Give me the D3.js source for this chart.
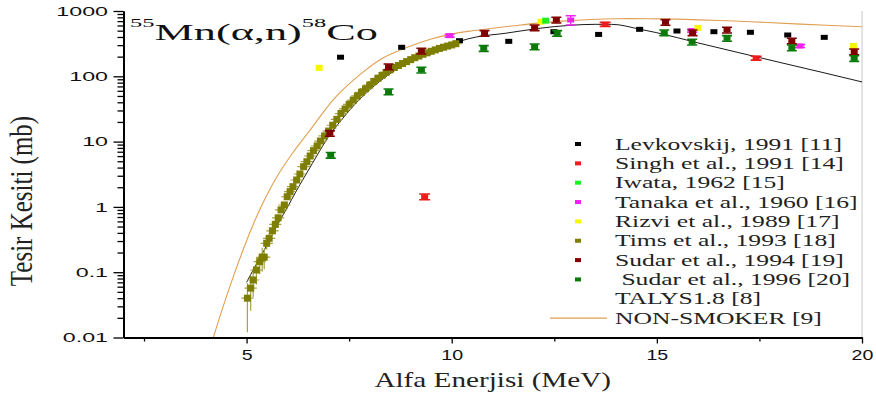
<!DOCTYPE html>
<html><head><meta charset="utf-8">
<script src="https://cdn.jsdelivr.net/npm/d3@7"></script>
<style>
body{margin:0;background:#fff}
svg{display:block}
text{white-space:pre}
</style>
</head><body>
<svg id="c" width="876" height="401"></svg>
<script>
// ---------- data ----------
const xDomain = [2, 20];
const yDomain = [0.01, 1000];
const xMajorTicks = [5, 10, 15, 20];
const xMajorLabels = ["5", "10", "15", "20"];
const xMinorTicks = [2.5, 7.5, 12.5, 17.5];
const yMajorTicks = [0.01, 0.1, 1, 10, 100, 1000];
const yMajorLabels = ["0.01", "0.1", "1", "10", "100", "1000"];

const levkE = [7.29, 8.78, 10.19, 11.39, 12.49, 13.58, 14.58, 15.49, 16.39, 17.28, 18.19, 19.08];
const levkS = [196, 278, 351, 343, 482, 438, 524, 494, 482, 472, 429, 395];
const levkErr = [0, 0, 0, 0, 0, 0, 0, 0, 0, 0, 0, 0];

const singhE = [9.34, 13.74, 17.42];
const singhS = [1.43, 625, 190];
const singhErr = [0.1, 0.07, 0.07];

const iwataE = [12.29];
const iwataS = [711];
const iwataErr = [0];

const tanakaE = [9.95, 12.90, 15.86, 18.49];
const tanakaS = [419, 728, 500, 291];
const tanakaErr = [0.05, 0.16, 0.05, 0.05];

const rizviE = [6.77, 12.18, 16.00, 19.79];
const rizviS = [135, 685, 550, 291];
const rizviErr = [0, 0, 0, 0];

const timsE = [5.02,5.10,5.16,5.24,5.32,5.38,5.43,5.49,5.55,5.63,5.70,5.77,5.84,5.92,5.99,6.06,6.13,6.22,6.30,6.39,6.47,6.55,6.63,6.72,6.80,6.90,
  7.0,7.1,7.2,7.3,7.4,7.5,7.6,7.7,7.8,7.9,8.0,8.1,8.2,8.3,8.4,8.5,8.6,8.7,8.8,8.9,9.0,9.1,9.2,9.3,9.4,9.5,9.6,9.7,9.8,9.9,10.0,10.1];
const timsS = [0.040,0.057,0.076,0.108,0.145,0.169,0.17,0.277,0.33,0.43,0.54,0.68,0.90,1.07,1.43,1.71,2.04,2.58,3.19,4.13,4.92,6.02,7.26,8.57,10.2,12.2,
  14.5,17.8,21.9,26.9,31.6,37.2,43.2,50.1,56.9,64.6,73.3,83.2,93.3,103.5,114.8,125.9,136.5,146.2,156.7,167.9,179.9,192.8,204.2,217.3,229,241.5,254,267.3,278.6,290.4,302,316];
const timsErr = [0.7,0.55,0.45,0.4,0.35,0.4,0.35,0.2,0.2,0.15,0.12,0.12,0.1,0.1,0.1,0.1,0.08,0.08,0.08,0.08,0.08,0.08,0.08,0.08,0.08,0.08,
  0.08,0.08,0.08,0.08,0.08,0.08,0.08,0.08,0.08,0.08,0.08,0.08,0.08,0.08,0.08,0.08,0.08,0.08,0.08,0.08,0.08,0.08,0.08,0.08,0.08,0.08,0.08,0.08,0.08,0.08,0.08,0.08];
const timsDE = 0.15;

const sudar94E = [7.03, 8.46, 9.26, 10.80, 12.02, 12.55, 15.21, 15.87, 16.71, 18.29, 19.81];
const sudar94S = [13.4, 140, 244, 455, 556, 728, 671, 466, 512, 348, 238];
const sudar94Err = [0.1, 0.1, 0.1, 0.1, 0.1, 0.1, 0.1, 0.1, 0.1, 0.1, 0.1];

const sudar96E = [7.05, 8.46, 9.26, 10.78, 12.02, 12.57, 15.18, 15.86, 16.71, 18.29, 19.81];
const sudar96S = [6.2, 58, 125, 268, 284, 455, 466, 335, 382, 274, 188];
const sudar96Err = [0.1, 0.1, 0.1, 0.1, 0.1, 0.1, 0.1, 0.1, 0.1, 0.1, 0.1];

const talysE = [5.0,5.2,5.4,5.6,5.8,6.0,6.2,6.4,6.6,6.8,7.0,7.3,7.6,8.0,8.5,9.0,9.5,10.0,10.2,10.6,11.3,12.1,12.9,13.5,13.9,14.6,15.0,16,17,18,19,20];
const talysS = [0.07,0.12,0.2,0.35,0.6,1.0,1.7,2.8,4.6,7.5,12,21,35,62,110,170,240,310,345,400,455,540,605,625,625,524,465,325,230,163,116,82];

const nsE = [4.19,4.4,4.67,4.9,5.12,5.3,5.49,5.7,5.9,6.1,6.3,6.5,6.8,7.1,7.4,7.8,8.3,8.9,9.5,10.0,10.5,10.9,11.5,12.1,12.7,13.4,14.0,14.8,15.5,16.5,17.3,18.5,20];
const nsS = [0.01,0.0263,0.0832,0.207,0.466,0.85,1.50,2.62,4.19,6.40,9.47,13.7,24.6,42.8,67,111,187,275,372,443,497,535,593,653,700,741,762,762,750,715,685,630,575];

const legendLabels = ["Levkovskij, 1991 [11]", "Singh et al., 1991 [14]", "Iwata, 1962 [15]",
  "Tanaka et al., 1960 [16]", "Rizvi et al., 1989 [17]", "Tims et al., 1993 [18]",
  "Sudar et al., 1994 [19]", " Sudar et al., 1996 [20]", "TALYS1.8 [8]", "NON-SMOKER [9]"];
const titleParts = ["55", "Mn(\u03b1,n)", "58", "Co"];
const xTitle = "Alfa Enerjisi (MeV)";
const yTitle = "Tesir Kesiti (mb)";

// ---------- layout ----------
const X0 = 123.5, X1 = 862, Y0 = 337.5, Y1 = 11;
const colors = {levk:"#000000", singh:"#ee1c1c", iwata:"#22ee22", tanaka:"#ee22ee", rizvi:"#f6f600",
  tims:"#7e7e00", timsErr:"#a3a348", sudar94:"#800000", sudar96:"#0b7a0b", talys:"#000000", ns:"#e0a050"};

const svg = d3.select("#c");
const x = d3.scaleLinear().domain(xDomain).range([X0, X1]);
const y = d3.scaleLog().domain(yDomain).range([Y0, Y1]);

svg.append("defs").append("clipPath").attr("id","clip")
  .append("rect").attr("x",X0).attr("y",Y1-4).attr("width",X1-X0).attr("height",Y0-Y1+4);

// right spine (light)
svg.append("line").attr("x1",X1).attr("x2",X1).attr("y1",Y1).attr("y2",Y0)
  .attr("stroke","#c8c8c8").attr("stroke-width",1);

const plot = svg.append("g").attr("clip-path","url(#clip)");

// model curves
const line = d3.line().x(d=>x(d[0])).y(d=>y(d[1])).curve(d3.curveMonotoneX);
plot.append("path").datum(d3.zip(nsE, nsS)).attr("d", line.curve(d3.curveCatmullRom.alpha(0.5)))
  .attr("fill","none").attr("stroke",colors.ns).attr("stroke-width",1.1);
plot.append("path").datum(d3.zip(talysE, talysS)).attr("d", line.curve(d3.curveMonotoneX))
  .attr("fill","none").attr("stroke",colors.talys).attr("stroke-width",0.9);

// generic series with error bars
function drawSeries(E, S, Err, color, w, h, capW) {
  const g = plot.append("g");
  const data = d3.zip(E, S, Err);
  data.forEach(d => {
    const cx = x(d[0]), cy = y(d[1]);
    if (d[2] > 0) {
      const yt = y(d[1]*(1+d[2])), yb = y(d[1]*(1-d[2]));
      g.append("line").attr("x1",cx).attr("x2",cx).attr("y1",yt).attr("y2",yb).attr("stroke",color).attr("stroke-width",1.2);
      g.append("line").attr("x1",cx-capW/2).attr("x2",cx+capW/2).attr("y1",yt).attr("y2",yt).attr("stroke",color).attr("stroke-width",1.6);
      g.append("line").attr("x1",cx-capW/2).attr("x2",cx+capW/2).attr("y1",yb).attr("y2",yb).attr("stroke",color).attr("stroke-width",1.6);
    }
    g.append("rect").attr("x",cx-w/2).attr("y",cy-h/2).attr("width",w).attr("height",h).attr("fill",color);
  });
}

drawSeries(levkE, levkS, levkErr, colors.levk, 7, 5, 10);
drawSeries(singhE, singhS, singhErr, colors.singh, 7, 5, 11);
drawSeries(tanakaE, tanakaS, tanakaErr, colors.tanaka, 7, 5, 10);

// Tims: squares with light error bars
const tg = plot.append("g");
d3.zip(timsE, timsS, timsErr).forEach(d => {
  const cx = x(d[0]), cy = y(d[1]);
  tg.append("line").attr("x1",cx).attr("x2",cx).attr("y1",y(d[1]*(1+d[2]))).attr("y2",y(d[1]*(1-d[2])))
    .attr("stroke",colors.timsErr).attr("stroke-width",1.2);
  tg.append("line").attr("x1",x(d[0]-timsDE)).attr("x2",x(d[0]+timsDE)).attr("y1",cy).attr("y2",cy)
    .attr("stroke",colors.timsErr).attr("stroke-width",1.2);
});
d3.zip(timsE, timsS).forEach(d => {
  tg.append("rect").attr("x",x(d[0])-3.5).attr("y",y(d[1])-3.5).attr("width",7).attr("height",7).attr("fill",colors.tims);
});

drawSeries(rizviE, rizviS, rizviErr, colors.rizvi, 7, 6, 10);
drawSeries(iwataE, iwataS, iwataErr, colors.iwata, 7, 6, 10);
drawSeries(sudar94E, sudar94S, sudar94Err, colors.sudar94, 7, 5, 10);
drawSeries(sudar96E, sudar96S, sudar96Err, colors.sudar96, 7, 5, 10);

// ---------- axes ----------
function styleAxis(g, w) {
  g.select(".domain").attr("stroke","#000").attr("stroke-width",w);
  g.selectAll(".tick line").attr("stroke","#000").attr("stroke-width",1.3);
}
const yMinor = y.ticks().filter(v => !yMajorTicks.some(m => Math.abs(m - v) / m < 1e-6));
const gyMinor = svg.append("g").attr("transform",`translate(${X0},0)`)
  .call(d3.axisLeft(y).tickValues(yMinor).tickSize(6).tickSizeOuter(0).tickFormat(""));
styleAxis(gyMinor, 2);
const gy = svg.append("g").attr("transform",`translate(${X0},0)`)
  .call(d3.axisLeft(y).tickValues(yMajorTicks).tickSize(10).tickSizeOuter(0)
    .tickFormat((d,i) => yMajorLabels[i]));
styleAxis(gy, 2);
const ySx = 1.72;
gy.selectAll(".tick text").attr("font-family","'Liberation Sans', Arial, sans-serif").attr("font-size",13.5)
  .attr("fill","#111").attr("x", -15.5/ySx).attr("transform",`scale(${ySx},1)`);

const gxMinor = svg.append("g").attr("transform",`translate(0,${Y0})`)
  .call(d3.axisBottom(x).tickValues(xMinorTicks).tickSize(4).tickSizeOuter(0).tickFormat(""));
styleAxis(gxMinor, 2);
const gx = svg.append("g").attr("transform",`translate(0,${Y0})`)
  .call(d3.axisBottom(x).tickValues(xMajorTicks).tickSize(6).tickSizeOuter(0)
    .tickFormat((d,i) => xMajorLabels[i]));
styleAxis(gx, 2);
const xSx = 1.4;
gx.selectAll(".tick text").attr("font-family","'Liberation Sans', Arial, sans-serif").attr("font-size",14)
  .attr("fill","#111").attr("y",22.5).attr("dy",0).attr("transform",`scale(${xSx},1)`);

// axis titles
svg.append("text").text(xTitle)
  .attr("font-family","'Liberation Serif', 'Times New Roman', serif").attr("font-size",20).attr("fill","#222")
  .attr("text-anchor","middle")
  .attr("transform",`translate(${(X0+X1)/2},387) scale(1.46,1)`);
svg.append("text").text(yTitle)
  .attr("font-family","'Liberation Serif', 'Times New Roman', serif").attr("font-size",25).attr("fill","#222")
  .attr("text-anchor","middle")
  .attr("transform",`translate(32,201) rotate(-90) scale(1,1.3)`);

// title
const tt = svg.append("text")
  .attr("font-family","'Liberation Serif', 'Times New Roman', serif").attr("font-size",23.5).attr("fill","#111");
tt.append("tspan").text(titleParts[0]).attr("font-size",13).attr("dy",-13);
tt.append("tspan").text(titleParts[1]).attr("dy",13);
tt.append("tspan").text(titleParts[2]).attr("font-size",13).attr("dy",-13);
tt.append("tspan").text(titleParts[3]).attr("dy",13);
const tw = tt.node().getBBox().width;
tt.attr("transform",`translate(130,40) scale(${248/tw},1)`);

// ---------- legend ----------
const legColors = [colors.levk, colors.singh, colors.iwata, colors.tanaka, colors.rizvi, colors.tims, colors.sudar94, colors.sudar96];
const lg = svg.append("g");
legendLabels.forEach((lab, i) => {
  const cy = 144 + i * 19.35;
  if (i < legColors.length) {
    lg.append("rect").attr("x",575).attr("y",cy-2).attr("width",6).attr("height",4).attr("fill",legColors[i]);
  } else if (i === 9) {
    lg.append("line").attr("x1",550).attr("x2",607).attr("y1",cy).attr("y2",cy).attr("stroke",colors.ns).attr("stroke-width",1.1);
  }
  lg.append("text").text(lab)
    .attr("font-family","'Liberation Serif', 'Times New Roman', serif").attr("font-size",16).attr("fill","#222")
    .attr("transform",`translate(615,${cy+5.5}) scale(1.6,1)`);
});
</script>
</body></html>
